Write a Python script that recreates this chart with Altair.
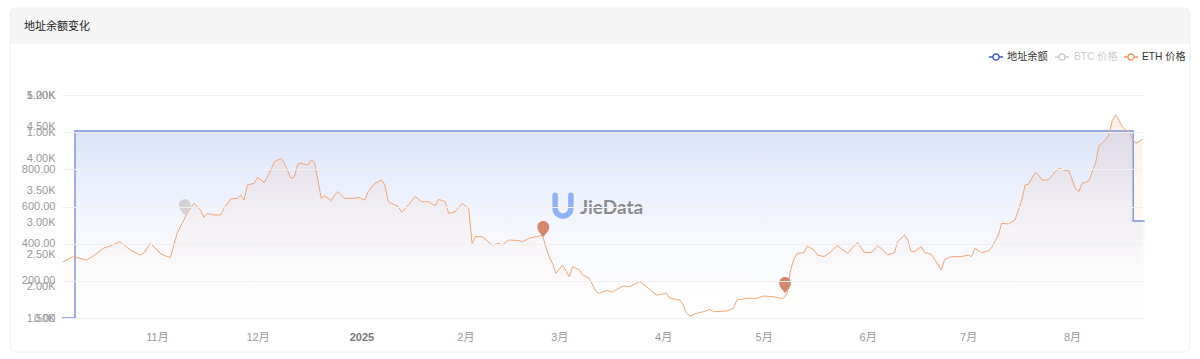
import altair as alt
import pandas as pd

# ---------------- data ----------------
eth_dates = [
    "2024-10-04", "2024-10-07", "2024-10-11", "2024-10-13", "2024-10-16", "2024-10-18",
    "2024-10-21", "2024-10-24", "2024-10-27", "2024-10-28", "2024-10-30", "2024-11-02",
    "2024-11-04", "2024-11-05", "2024-11-07", "2024-11-10", "2024-11-12", "2024-11-14",
    "2024-11-15", "2024-11-16", "2024-11-18", "2024-11-20", "2024-11-21", "2024-11-23",
    "2024-11-25", "2024-11-26", "2024-11-27", "2024-11-28", "2024-11-30", "2024-12-01",
    "2024-12-03", "2024-12-05", "2024-12-06", "2024-12-08", "2024-12-09", "2024-12-11",
    "2024-12-12", "2024-12-13", "2024-12-14", "2024-12-16", "2024-12-17", "2024-12-18",
    "2024-12-19", "2024-12-20", "2024-12-21", "2024-12-23", "2024-12-24", "2024-12-25",
    "2024-12-27", "2024-12-30", "2024-12-31", "2025-01-02", "2025-01-03", "2025-01-05",
    "2025-01-07", "2025-01-08", "2025-01-09", "2025-01-11", "2025-01-12", "2025-01-13",
    "2025-01-15", "2025-01-17", "2025-01-19", "2025-01-21", "2025-01-23", "2025-01-24",
    "2025-01-26", "2025-01-27", "2025-01-29", "2025-01-31", "2025-02-02", "2025-02-03",
    "2025-02-04", "2025-02-06", "2025-02-09", "2025-02-11", "2025-02-12", "2025-02-14",
    "2025-02-17", "2025-02-18", "2025-02-20", "2025-02-23", "2025-02-24", "2025-02-25",
    "2025-02-26", "2025-02-27", "2025-02-28", "2025-03-02", "2025-03-04", "2025-03-05",
    "2025-03-07", "2025-03-08", "2025-03-10", "2025-03-12", "2025-03-13", "2025-03-15",
    "2025-03-17", "2025-03-20", "2025-03-22", "2025-03-25", "2025-03-27", "2025-03-30",
    "2025-04-02", "2025-04-03", "2025-04-06", "2025-04-07", "2025-04-08", "2025-04-09",
    "2025-04-11", "2025-04-13", "2025-04-15", "2025-04-16", "2025-04-20", "2025-04-22",
    "2025-04-23", "2025-04-26", "2025-04-29", "2025-05-01", "2025-05-04", "2025-05-06",
    "2025-05-07", "2025-05-08", "2025-05-09", "2025-05-10", "2025-05-11", "2025-05-13",
    "2025-05-14", "2025-05-16", "2025-05-17", "2025-05-19", "2025-05-21", "2025-05-23",
    "2025-05-24", "2025-05-26", "2025-05-29", "2025-05-31", "2025-06-02", "2025-06-04",
    "2025-06-05", "2025-06-07", "2025-06-09", "2025-06-10", "2025-06-12", "2025-06-13",
    "2025-06-14", "2025-06-15", "2025-06-17", "2025-06-18", "2025-06-20", "2025-06-21",
    "2025-06-23", "2025-06-24", "2025-06-26", "2025-06-29", "2025-07-01", "2025-07-02",
    "2025-07-03", "2025-07-05", "2025-07-07", "2025-07-08", "2025-07-10", "2025-07-11",
    "2025-07-13", "2025-07-15", "2025-07-17", "2025-07-18", "2025-07-19", "2025-07-21",
    "2025-07-22", "2025-07-23", "2025-07-25", "2025-07-27", "2025-07-28", "2025-07-30",
    "2025-07-31", "2025-08-02", "2025-08-03", "2025-08-04", "2025-08-06", "2025-08-08",
    "2025-08-09", "2025-08-10", "2025-08-11", "2025-08-12", "2025-08-13", "2025-08-14",
    "2025-08-15", "2025-08-16", "2025-08-17", "2025-08-18", "2025-08-19", "2025-08-20",
    "2025-08-21", "2025-08-22",
]
eth_prices = [
    2384, 2463, 2411, 2473, 2594, 2630,
    2698, 2568, 2489, 2515, 2672, 2515,
    2463, 2452, 2829, 3143, 3300, 3196,
    3080, 3143, 3117, 3117, 3222, 3368,
    3379, 3431, 3352, 3588, 3614, 3708,
    3625, 3823, 3954, 4007, 3928, 3693,
    3719, 3918, 3928, 3902, 3980, 3939,
    3667, 3379, 3415, 3342, 3431, 3483,
    3379, 3379, 3394, 3352, 3483, 3614,
    3667, 3588, 3326, 3274, 3250, 3160,
    3274, 3405, 3326, 3326, 3262, 3363,
    3326, 3143, 3169, 3300, 3222, 2672,
    2777, 2777, 2646, 2672, 2646, 2725,
    2714, 2698, 2751, 2787, 2800, 2620,
    2463, 2358, 2201, 2332, 2149, 2306,
    2254, 2175, 2123, 1913, 1887, 1929,
    1913, 2002, 1992, 2070, 1992, 1861,
    1887, 1809, 1783, 1704, 1573, 1531,
    1573, 1599, 1636, 1599, 1610, 1652,
    1783, 1809, 1809, 1845, 1835, 1809,
    1815, 1890, 2250, 2420, 2515, 2526,
    2630, 2568, 2489, 2463, 2541, 2636,
    2594, 2515, 2688, 2531, 2526, 2630,
    2594, 2489, 2526, 2698, 2803, 2725,
    2541, 2541, 2620, 2526, 2499, 2421,
    2254, 2421, 2463, 2463, 2489, 2463,
    2594, 2526, 2552, 2604, 2803, 2986,
    2976, 3039, 3352, 3588, 3599, 3782,
    3745, 3667, 3667, 3797, 3850, 3813,
    3813, 3536, 3483, 3614, 3651, 3928,
    4200, 4250, 4300, 4380, 4600, 4690,
    4600, 4500, 4451, 4425, 4320, 4242,
    4268, 4305,
]

bal_dates = ["2024-10-03T16:00:00Z", "2024-10-07T13:00:00Z",
             "2025-08-19T06:00:00Z", "2025-08-22T15:00:00Z"]
bal_values = [0, 1006, 522, 522]

pin_dates = ["2024-11-09T08:00:00Z", "2025-02-24T06:00:00Z", "2025-05-07T09:00:00Z"]
pin_values = [3110, 2770, 1890]
pin_series = ["BTC 价格", "ETH 价格", "ETH 价格"]

legend_names = ["地址余额", "BTC 价格", "ETH 价格"]
legend_colors = ["#3d5bcf", "#cccccc", "#f1995c"]
legend_text_colors = ["#333333", "#cccccc", "#333333"]

eth_ticks = [1500, 2000, 2500, 3000, 3500, 4000, 4500, 5000]
bal_ticks = [0, 200, 400, 600, 800, 1000, 1200]
month_ticks = [(2024, 11), (2024, 12), (2025, 1), (2025, 2), (2025, 3), (2025, 4),
               (2025, 5), (2025, 6), (2025, 7), (2025, 8)]

title_text = "地址余额变化"
watermark = "JieData"

# ---------------- frames ----------------
eth_df = pd.DataFrame({"date": eth_dates, "price": eth_prices})
bal_df = pd.DataFrame({"date": bal_dates, "bal": bal_values})
pin_df = pd.DataFrame({"date": pin_dates, "price": pin_values, "series": pin_series})
one = pd.DataFrame({"k": [0]})

FONT = "Liberation Sans, Noto Sans CJK SC, sans-serif"
W, H = 1081, 223
PL, PT = 62, 95

x_scale = alt.Scale(
    type="utc",
    domain=[alt.DateTime(year=2024, month=10, date=3, hours=16, utc=True),
            alt.DateTime(year=2025, month=8, date=22, hours=4, utc=True)],
)
x_axis = alt.Axis(
    values=[alt.DateTime(year=y, month=m, date=1, utc=True) for y, m in month_ticks],
    labelExpr="utcmonth(datum.value) == 0 ? utcFormat(datum.value, '%Y') : (utcmonth(datum.value) + 1) + '月'",
    domain=False, ticks=False, grid=False, labelPadding=13, labelFontSize=11,
    labelColor={"condition": {"test": "utcmonth(datum.value) == 0", "value": "#777777"}, "value": "#999999"},
    labelFontWeight={"condition": {"test": "utcmonth(datum.value) == 0", "value": "bold"}, "value": "normal"},
    title=None, labelFont=FONT,
)
X = alt.X("date:T", scale=x_scale, axis=x_axis)

bal_y = alt.Y(
    "bal:Q",
    scale=alt.Scale(domain=[0, 1200], nice=False, zero=True),
    axis=alt.Axis(orient="left", values=bal_ticks,
                  labelExpr="datum.value >= 1000 ? format(datum.value / 1000, '.2f') + 'K' : format(datum.value, '.2f')",
                  grid=True, gridColor="#f0f0f0", gridWidth=1, domain=False, ticks=False,
                  labelPadding=7, labelColor="#999999", labelFontSize=11, title=None, labelFont=FONT,
                  zindex=1),
)
eth_y = alt.Y(
    "price:Q",
    scale=alt.Scale(domain=[1500, 5000], nice=False, zero=False),
    axis=alt.Axis(orient="left", values=eth_ticks,
                  labelExpr="format(datum.value / 1000, '.2f') + 'K'",
                  grid=False, domain=False, ticks=False, labelPadding=7,
                  labelColor="#999999", labelFontSize=11, title=None, labelFont=FONT, zindex=1),
)

blue_grad = alt.Gradient(
    gradient="linear", x1=0, x2=0, y1=0, y2=1,
    stops=[alt.GradientStop(color="rgba(120,150,238,0.26)", offset=0),
           alt.GradientStop(color="rgba(120,150,238,0.08)", offset=0.5),
           alt.GradientStop(color="rgba(120,150,238,0)", offset=0.9)],
)
orange_grad = alt.Gradient(
    gradient="linear", x1=0, x2=0, y1=0, y2=1,
    stops=[alt.GradientStop(color="rgba(245,165,120,0.16)", offset=0),
           alt.GradientStop(color="rgba(245,165,120,0.05)", offset=0.6),
           alt.GradientStop(color="rgba(245,165,120,0)", offset=1)],
)

bal_area = alt.Chart(bal_df).mark_area(interpolate="step-after", color=blue_grad).encode(x=X, y=bal_y)
bal_line = alt.Chart(bal_df).mark_line(interpolate="step-after", color="#7391e6", strokeWidth=1.4).encode(x=X, y=bal_y)
bal_layer = alt.layer(bal_area, bal_line)

eth_area = alt.Chart(eth_df).mark_area(color=orange_grad).encode(x=X, y=eth_y, y2=alt.datum(1500))
eth_line = alt.Chart(eth_df).mark_line(color="#f4a570", strokeWidth=1.0).encode(x=X, y=eth_y)

PIN = "M0,0 C-0.12,-0.25 -0.55,-0.5 -0.55,-0.95 A0.55,0.55 0 1 1 0.55,-0.95 C0.55,-0.5 0.12,-0.25 0,0 Z"
pins = alt.Chart(pin_df).mark_point(shape=PIN, filled=True, size=460, opacity=1).encode(
    x=X, y=eth_y,
    color=alt.Color("series:N", scale=alt.Scale(domain=["BTC 价格", "ETH 价格"],
                                                range=["#d2d2d2", "#d4886c"]), legend=None),
)
eth_layer = alt.layer(eth_area, eth_line, pins)

# ---------------- decoration ----------------
card = alt.Chart(one).mark_rect(fill=None, stroke="#f0f0f0", strokeWidth=1, cornerRadius=6).encode(
    x=alt.value(10 - PL), x2=alt.value(1190 - PL), y=alt.value(8 - PT), y2=alt.value(352 - PT))
header = alt.Chart(one).mark_rect(color="#f5f5f5", cornerRadiusTopLeft=6, cornerRadiusTopRight=6).encode(
    x=alt.value(10 - PL), x2=alt.value(1190 - PL), y=alt.value(8 - PT), y2=alt.value(44 - PT))
title = alt.Chart(one).mark_text(text=title_text, align="left", baseline="middle", fontSize=11,
                                 color="#222222", font=FONT).encode(
    x=alt.value(24 - PL), y=alt.value(27 - PT))

U_SHAPE = "M-0.55,-0.75 L-0.55,0.15 A0.55,0.55 0 0 0 0.55,0.15 L0.55,-0.75"
wm_icon = alt.Chart(one).mark_point(shape=U_SHAPE, filled=False, size=820, stroke="#8fb1f6",
                                    strokeWidth=5.5, strokeCap="round", opacity=1).encode(
    x=alt.value(563 - PL), y=alt.value(206 - PT))
wm_text = alt.Chart(one).mark_text(text=watermark, align="left", baseline="middle", fontSize=19,
                                   fontWeight="bold", color="#8c8c8c", font="Lato").encode(
    x=alt.value(580 - PL), y=alt.value(208 - PT))

legend_layers = []
icon_cx = [996, 1062, 1131]
text_x = [1007, 1074, 1142]
ly = 57 - PT
for name, col, tcol, cx, tx in zip(legend_names, legend_colors, legend_text_colors, icon_cx, text_x):
    legend_layers.append(alt.Chart(one).mark_rule(color=col, strokeWidth=1.5).encode(
        x=alt.value(cx - 7 - PL), x2=alt.value(cx + 7 - PL), y=alt.value(ly)))
    legend_layers.append(alt.Chart(one).mark_point(shape="circle", filled=True, fill="white",
                                                   stroke=col, strokeWidth=1.5, size=38, opacity=1).encode(
        x=alt.value(cx - PL), y=alt.value(ly)))
    legend_layers.append(alt.Chart(one).mark_text(text=name, align="left", baseline="middle",
                                                  fontSize=10.2, color=tcol, font=FONT).encode(
        x=alt.value(tx - PL), y=alt.value(ly)))

chart = alt.layer(
    header, card, bal_layer, eth_layer, wm_icon, wm_text, title, *legend_layers
).resolve_scale(y="independent", color="independent").properties(
    width=W, height=H,
    padding={"left": PL, "top": PT, "right": 1200 - PL - W, "bottom": 359 - PT - H},
    autosize=alt.AutoSizeParams(type="none"),
).configure(font=FONT, background="white").configure_view(stroke=None)

chart.save("out.html", embed_options={"renderer": "svg", "actions": False})
